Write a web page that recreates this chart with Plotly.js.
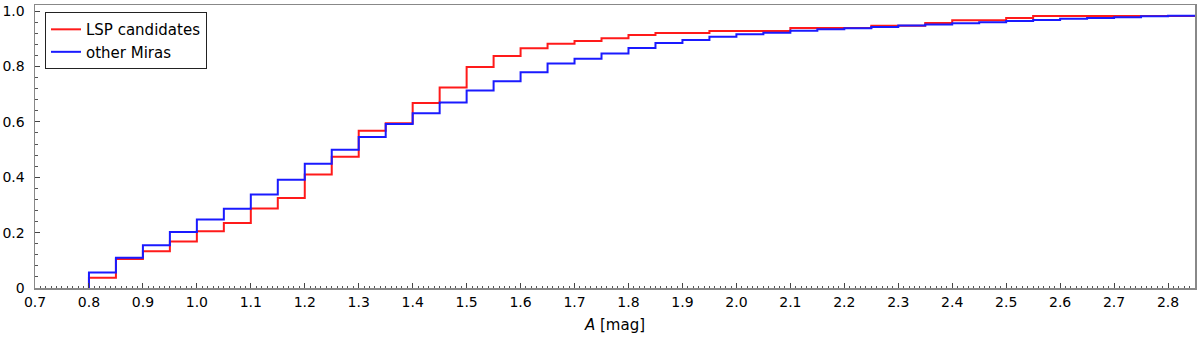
<!DOCTYPE html>
<html>
<head>
<meta charset="utf-8">
<script src="https://cdn.plot.ly/plotly-3.0.1.min.js"></script>
<style>html,body{margin:0;padding:0;background:#fff}#chart{width:1200px;height:343px}</style>
</head>
<body>
<div id="chart"></div>
<script>
// Bin edges (left edges of each bin, plus final right edge)
const binEdges = [0.80,0.85,0.90,0.95,1.00,1.05,1.10,1.15,1.20,1.25,1.30,1.35,1.40,1.45,1.50,1.55,1.60,1.65,1.70,1.75,1.80,1.85,1.90,1.95,2.00,2.05,2.10,2.15,2.20,2.25,2.30,2.35,2.40,2.45,2.50,2.55,2.60,2.65,2.70,2.75,2.80,2.85];

// Cumulative fractions per bin
const lspCandidates = [0.037,0.105,0.133,0.168,0.205,0.235,0.287,0.325,0.410,0.474,0.568,0.595,0.668,0.724,0.798,0.838,0.866,0.882,0.892,0.902,0.914,0.921,0.921,0.928,0.928,0.928,0.939,0.939,0.939,0.947,0.947,0.957,0.967,0.967,0.975,0.982,0.982,0.982,0.982,0.982,0.982];
const otherMiras = [0.056,0.109,0.154,0.202,0.247,0.286,0.338,0.391,0.449,0.499,0.545,0.592,0.631,0.670,0.713,0.747,0.779,0.811,0.828,0.847,0.867,0.885,0.896,0.907,0.916,0.922,0.929,0.934,0.938,0.943,0.948,0.952,0.956,0.960,0.964,0.968,0.972,0.975,0.978,0.981,0.983];

const xTickVals = [0.7,0.8,0.9,1.0,1.1,1.2,1.3,1.4,1.5,1.6,1.7,1.8,1.9,2.0,2.1,2.2,2.3,2.4,2.5,2.6,2.7,2.8];
const xTickText = ["0.7","0.8","0.9","1.0","1.1","1.2","1.3","1.4","1.5","1.6","1.7","1.8","1.9","2.0","2.1","2.2","2.3","2.4","2.5","2.6","2.7","2.8"];
const yTickVals = [0,0.2,0.4,0.6,0.8,1.0];
const yTickText = ["0","0.2","0.4","0.6","0.8","1.0"];

function stepXY(edges, vals){
  const x = [edges[0]];
  const y = [0];
  for (let i = 0; i < vals.length; i++){ x.push(edges[i]); y.push(vals[i]); }
  x.push(edges[edges.length-1]); y.push(vals[vals.length-1]);
  return {x, y};
}

const r = stepXY(binEdges, lspCandidates);
const b = stepXY(binEdges, otherMiras);

const traces = [
  {x: r.x, y: r.y, mode: 'lines', line: {shape: 'hv', color: '#ff1a1a', width: 2}, name: 'LSP candidates'},
  {x: b.x, y: b.y, mode: 'lines', line: {shape: 'hv', color: '#1a1aff', width: 2}, name: 'other Miras'}
];

const font = {family: '"DejaVu Sans", sans-serif', size: 14, color: '#000'};

const layout = {
  width: 1200, height: 343,
  margin: {l: 35, r: 5, t: 5, b: 55},
  paper_bgcolor: '#fff', plot_bgcolor: '#fff',
  font: font,
  showlegend: true,
  legend: {
    x: 0.0086, y: 0.975, xanchor: 'left', yanchor: 'top',
    bordercolor: '#222', borderwidth: 1, bgcolor: '#fff',
    font: {family: '"DejaVu Sans", sans-serif', size: 15, color: '#000'},
    itemwidth: 30, tracegroupgap: 0
  },
  xaxis: {
    range: [0.7, 2.85],
    tickmode: 'array', tickvals: xTickVals, ticktext: xTickText,
    ticks: 'inside', ticklen: 5, tickwidth: 1, tickcolor: '#444',
    minor: {dtick: 0.01, tick0: 0.7, ticks: 'inside', ticklen: 2.5, tickwidth: 1, tickcolor: '#555', showgrid: false},
    showline: true, mirror: true, linecolor: '#888', linewidth: 1.5,
    showgrid: false, zeroline: false,
    tickfont: {size: 14},
    ticklabelstandoff: 1,
    title: {text: '<i>A</i> [mag]', font: {size: 15}, standoff: 10}
  },
  yaxis: {
    range: [0, 1.022],
    tickmode: 'array', tickvals: yTickVals, ticktext: yTickText,
    ticks: 'inside', ticklen: 5, tickwidth: 1, tickcolor: '#444',
    minor: {dtick: 0.04, tick0: 0, ticks: 'inside', ticklen: 2.5, tickwidth: 1, tickcolor: '#555', showgrid: false},
    showline: true, mirror: true, linecolor: '#888', linewidth: 1.5,
    showgrid: false, zeroline: false,
    tickfont: {size: 14},
    ticklabelstandoff: 6
  }
};

Plotly.newPlot('chart', traces, layout, {displayModeBar: false, staticPlot: true});
</script>
</body>
</html>
